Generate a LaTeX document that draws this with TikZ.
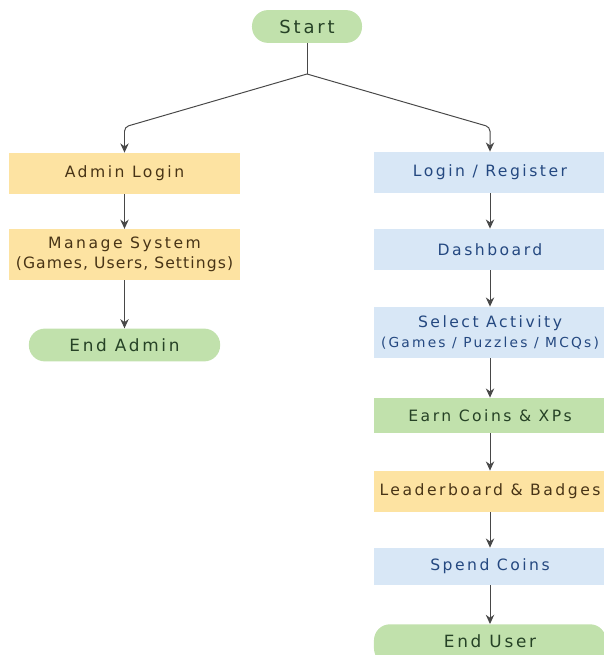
\documentclass[tikz,border=0pt]{standalone}
\usepackage{fontspec}
\setmainfont{DejaVu Sans}[LetterSpace=16]
\usepackage{tikz}
\usetikzlibrary{arrows.meta,positioning,calc}
\definecolor{gfill}{RGB}{193,225,172}
\definecolor{gtext}{RGB}{38,66,38}
\definecolor{ofill}{RGB}{253,227,162}
\definecolor{otext}{RGB}{72,52,22}
\definecolor{bfill}{RGB}{216,231,246}
\definecolor{btext}{RGB}{36,72,128}
\definecolor{linegray}{RGB}{72,72,72}

\begin{document}
\begin{tikzpicture}[
  x=0.025cm,y=-0.025cm,
  font=\fontsize{11.1}{14}\selectfont,
  box/.style={rectangle,align=center,minimum width=5.8cm,minimum height=1.03cm,inner sep=2pt},
  admin/.style={box,fill=ofill,text=otext},
  user/.style={box,fill=bfill,text=btext},
  reward/.style={box,fill=gfill,text=gtext},
  rank/.style={box,fill=ofill,text=otext},
  terminal/.style={rectangle,rounded corners=0.4cm,fill=gfill,text=gtext,align=center,minimum height=0.82cm},
  link/.style={draw=linegray,line width=.7pt},
  arrow/.style={link,-{Stealth[length=2.3mm,width=2.1mm]}}
]
\useasboundingbox (0,0) rectangle (603,655);
\node[terminal,minimum width=2.75cm,font=\fontsize{12.8}{14}\selectfont] (start) at (307,26.5) {Start};
% admin side
\node[admin,minimum width=5.78cm] (adminlogin) at (124.5,173.5) {Admin Login};
\node[admin,minimum width=5.78cm,minimum height=1.27cm] (manage) at (124.5,254.5) {Manage System\\{\addfontfeature{LetterSpace=7}(Games, Users, Settings)}};
\node[terminal,minimum width=4.78cm,font=\fontsize{12}{14}\selectfont] (endadmin) at (124.5,345) {End Admin};
% user side
\node[user] (login) at (490,172.5) {Login / Register};
\node[user] (dashboard) at (490,249.5) {Dashboard};
\node[user,minimum height=1.28cm] (activity) at (490,332.5) {Select Activity\\{\fontsize{9.8}{12}\selectfont(Games / Puzzles / MCQs)}};
\node[reward,minimum height=0.88cm] (earn) at (490,415.5) {Earn Coins \& XPs};
\node[rank] (leader) at (490,491.5) {Leaderboard \& Badges};
\node[user,minimum height=0.93cm] (spend) at (490,566.5) {Spend Coins};
\node[terminal,minimum width=5.8cm,minimum height=1.0cm,anchor=north,font=\fontsize{12}{14}\selectfont,text depth=4pt] (enduser) at (490,624) {End User};
% branching
\coordinate (split) at (307,74);
\coordinate (bendL) at (124.5,127);
\coordinate (bendR) at (490,127);
\draw[link] (start) -- (split);
\draw[arrow,rounded corners=3pt] (split) -- (bendL) -- (adminlogin);
\draw[arrow,rounded corners=3pt] (split) -- (bendR) -- (login);
\draw[arrow] (adminlogin) -- (manage);
\draw[arrow] (manage) -- (endadmin);
\draw[arrow] (login) -- (dashboard);
\draw[arrow] (dashboard) -- (activity);
\draw[arrow] (activity) -- (earn);
\draw[arrow] (earn) -- (leader);
\draw[arrow] (leader) -- (spend);
\draw[arrow] (spend) -- (enduser);
\end{tikzpicture}
\end{document}
